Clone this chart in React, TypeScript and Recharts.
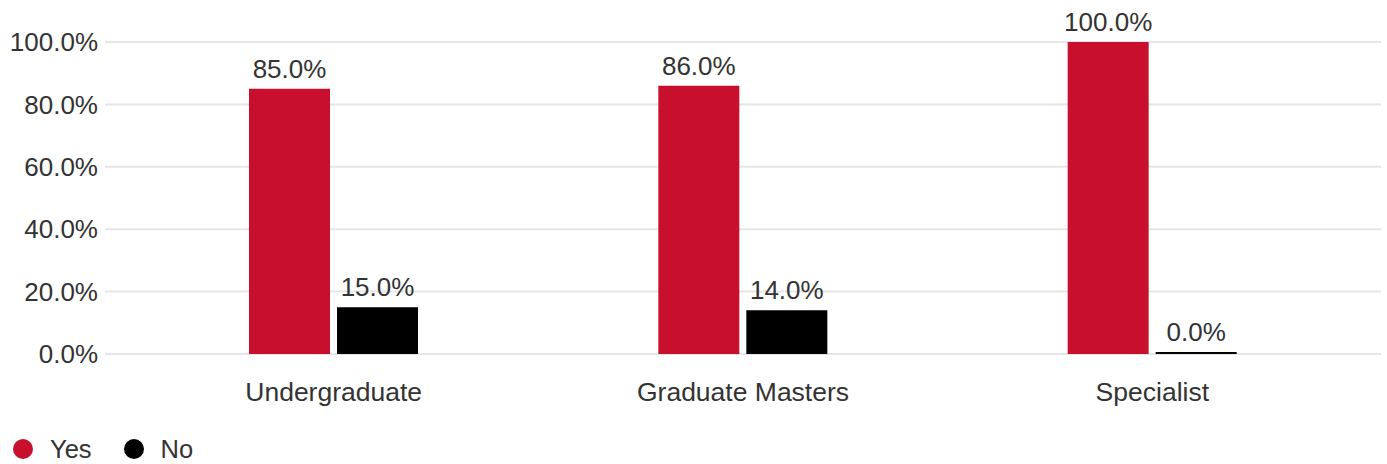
import React from 'react';
import { BarChart, Bar, XAxis, YAxis, CartesianGrid, LabelList, Legend } from 'recharts';

const CATEGORIES = ['Undergraduate', 'Graduate Masters', 'Specialist'];
const YES_VALUES = [85.0, 86.0, 100.0];
const NO_VALUES = [15.0, 14.0, 0.0];
const Y_TICKS = [0, 20, 40, 60, 80, 100];

const SERIES = [
  { key: 'yes', name: 'Yes', color: '#C8102E' },
  { key: 'no', name: 'No', color: '#000000' },
];

const data = CATEGORIES.map((name, i) => ({ name, yes: YES_VALUES[i], no: NO_VALUES[i] }));

const FONT = '"Liberation Sans", Arial, Helvetica, sans-serif';
const TEXT = '#333333';

const pct = (v: number) => `${Number(v).toFixed(1)}%`;

function LegendBox(): React.ReactElement {
  return (
    <div style={{ height: 40, display: 'flex', alignItems: 'flex-end', paddingLeft: 13, fontFamily: FONT }}>
      {SERIES.map((s) => (
        <div key={s.key} style={{ display: 'flex', alignItems: 'center', marginRight: 32, height: 30 }}>
          <span
            style={{
              width: 20,
              height: 20,
              borderRadius: 10,
              background: s.color,
              display: 'inline-block',
              marginRight: 17,
            }}
          />
          <span style={{ fontSize: 25.5, color: TEXT }}>{s.name}</span>
        </div>
      ))}
    </div>
  );
}

export default function App(): React.ReactElement {
  return (
    <div style={{ position: 'absolute', left: 0, top: 0, width: 1387, height: 464, background: '#fff' }}>
      <BarChart
        width={1387}
        height={464}
        data={data}
        margin={{ top: 42, right: 6, left: 0, bottom: 0 }}
        barCategoryGap={120}
        barGap={7}
        style={{ fontFamily: FONT }}
      >
        <CartesianGrid vertical={false} stroke="#e6e6e6" strokeWidth={2} />
        <XAxis
          dataKey="name"
          axisLine={false}
          tickLine={false}
          padding={{ left: 24, right: 24 }}
          height={70}
          tickMargin={22}
          tick={{ fill: TEXT, fontSize: 26.5 }}
        />
        <YAxis
          domain={[0, 100]}
          ticks={Y_TICKS}
          width={105}
          axisLine={false}
          tickLine={false}
          tickMargin={1}
          tickFormatter={pct}
          tick={{ fill: TEXT, fontSize: 26 }}
        />
        <Legend verticalAlign="bottom" align="left" content={<LegendBox />} />
        {SERIES.map((s) => (
          <Bar key={s.key} dataKey={s.key} name={s.name} fill={s.color} minPointSize={2} isAnimationActive={false}>
            <LabelList dataKey={s.key} position="top" offset={11} formatter={pct} fill={TEXT} fontSize={26} />
          </Bar>
        ))}
      </BarChart>
    </div>
  );
}
